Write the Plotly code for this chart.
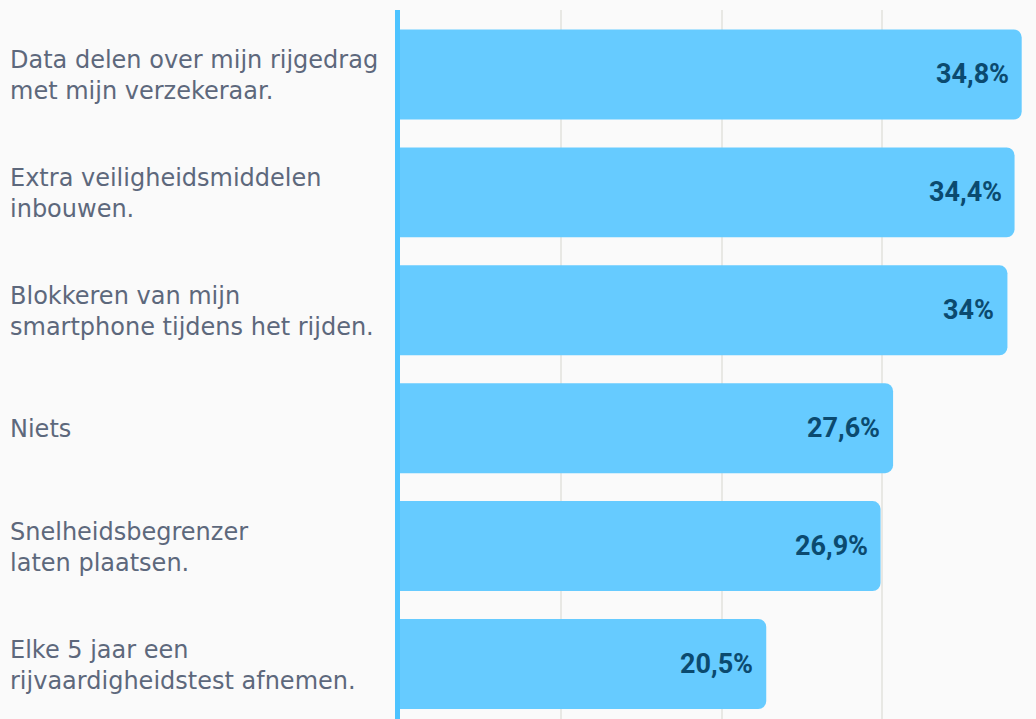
import plotly.graph_objects as go

categories = [
    "Data delen over mijn rijgedrag<br>met mijn verzekeraar.",
    "Extra veiligheidsmiddelen<br>inbouwen.",
    "Blokkeren van mijn<br>smartphone tijdens het rijden.",
    "Niets",
    "Snelheidsbegrenzer<br>laten plaatsen.",
    "Elke 5 jaar een<br>rijvaardigheidstest afnemen.",
]
values = [34.8, 34.4, 34.0, 27.6, 26.9, 20.5]
value_labels = ["34,8%", "34,4%", "34%", "27,6%", "26,9%", "20,5%"]

BAR_COLOR = "#66CBFF"
AXIS_COLOR = "#4DC3FF"
VALUE_COLOR = "#0B4A6F"
LABEL_COLOR = "#5D687C"
BG = "#FAFAFA"

fig = go.Figure()
fig.add_trace(go.Bar(
    x=values,
    y=list(range(len(categories))),
    orientation="h",
    marker=dict(color=BAR_COLOR, cornerradius=8, line=dict(width=0)),
    width=0.763,
    hoverinfo="skip",
))

# value labels inside bar ends
for i, (v, t) in enumerate(zip(values, value_labels)):
    fig.add_annotation(
        x=v, y=i, xref="x", yref="y", text=t, showarrow=False,
        xanchor="right", xshift=-11,
        font=dict(family="Roboto", size=27, color=VALUE_COLOR, weight="bold"),
    )

# category labels, left aligned
for i, c in enumerate(categories):
    fig.add_annotation(
        x=0, y=i, xref="paper", yref="y", text=c, showarrow=False,
        xanchor="left", xshift=-392, yshift=-1, align="left",
        font=dict(family="DejaVu Sans", size=24, color=LABEL_COLOR),
    )

fig.update_layout(
    width=1036, height=719,
    margin=dict(l=400, r=0, t=10, b=0),
    paper_bgcolor=BG, plot_bgcolor=BG,
    showlegend=False,
    xaxis=dict(
        range=[0, 35.6], dtick=9, showticklabels=False,
        showgrid=True, gridcolor="#E8E8E4", gridwidth=2,
        zeroline=False, showline=False,
    ),
    yaxis=dict(
        range=[5.4665, -0.547], showticklabels=False, showgrid=False,
        zeroline=False, showline=True, linecolor=AXIS_COLOR, linewidth=5,
    ),
)

fig.write_html(
    "out.html",
    config={"displayModeBar": False},
    post_script="document.body.style.margin='0';document.body.style.background='#FAFAFA';",
)
